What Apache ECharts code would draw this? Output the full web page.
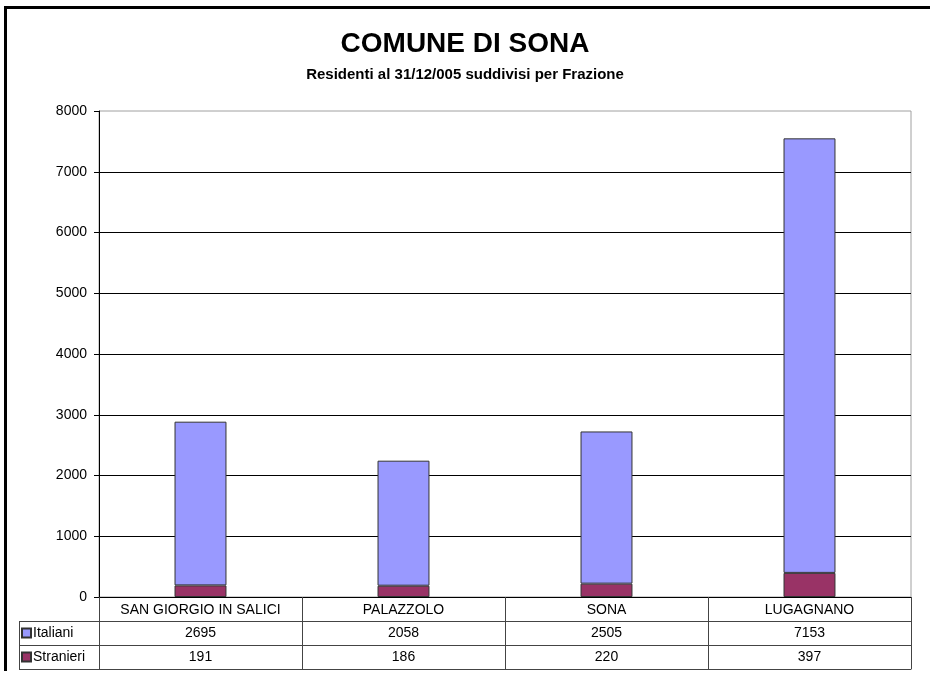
<!DOCTYPE html>
<html>
<head>
<meta charset="utf-8">
<script src="https://cdn.jsdelivr.net/npm/echarts@6/dist/echarts.min.js"></script>
<style>
html,body{margin:0;padding:0;background:#fff;}
#chart{width:930px;height:675px;}
</style>
</head>
<body>
<div id="chart"></div>
<script>
const categories = ['SAN GIORGIO IN SALICI', 'PALAZZOLO', 'SONA', 'LUGAGNANO'];
const italiani = [2695, 2058, 2505, 7153];
const stranieri = [191, 186, 220, 397];
const yMin = 0, yMax = 8000, yStep = 1000;
const titleText = 'COMUNE DI SONA';
const subtitleText = 'Residenti al 31/12/005 suddivisi per Frazione';

const FONT = 'Liberation Sans, Arial, sans-serif';
const G = {left: 99, right: 19, top: 111, bottom: 78};
const W = 930, H = 675;
const rowH = 24;
const plotBottom = H - G.bottom;        // 597
const legendLeft = 19;

const chart = echarts.init(document.getElementById('chart'), null, {renderer: 'canvas'});

function tableAxis(data, offset, showLabel) {
  return {
    type: 'category', data: data, position: 'bottom', offset: offset,
    axisLine: {show: true, lineStyle: {color: '#444', width: 1}},
    axisTick: {show: false},
    axisLabel: {show: showLabel, interval: 0, margin: 5, color: '#000', fontSize: 14, fontFamily: FONT},
    splitLine: {show: false}
  };
}

const option = {
  backgroundColor: '#fff',
  animation: false,
  title: {
    text: titleText, subtext: subtitleText, left: 'center', top: 30, padding: 0, itemGap: 9,
    textStyle: {fontFamily: FONT, fontSize: 28, fontWeight: 'bold', color: '#000'},
    subtextStyle: {fontFamily: FONT, fontSize: 15, fontWeight: 'bold', color: '#000'}
  },
  legend: {
    data: ['Italiani', 'Stranieri'], orient: 'vertical', left: 21, top: plotBottom + rowH + 5,
    padding: 0, itemGap: 10, itemWidth: 9, itemHeight: 9, icon: 'rect',
    textStyle: {fontFamily: FONT, fontSize: 14, color: '#000', lineHeight: 14, padding: [0, 0, 0, -3]},
    selectedMode: false
  },
  grid: {
    left: G.left, right: G.right, top: G.top, bottom: G.bottom,
    show: true, borderColor: '#a0a0a0', borderWidth: 1, backgroundColor: 'transparent'
  },
  xAxis: [
    {
      type: 'category', data: categories, position: 'bottom',
      axisLine: {show: true, lineStyle: {color: '#000', width: 1}},
      axisTick: {show: true, length: rowH * 3, lineStyle: {color: '#444'}},
      axisLabel: {interval: 0, margin: 6, color: '#000', fontSize: 14, fontFamily: FONT},
      splitLine: {show: false}
    },
    tableAxis(italiani.map(String), rowH, true),
    tableAxis(stranieri.map(String), rowH * 2, true),
    tableAxis(categories.map(() => ''), rowH * 3, false)
  ],
  yAxis: {
    type: 'value', min: yMin, max: yMax, interval: yStep,
    axisLine: {show: true, lineStyle: {color: '#000', width: 1}},
    axisTick: {show: true, length: 5, lineStyle: {color: '#000'}},
    axisLabel: {margin: 12, color: '#000', fontSize: 14, fontFamily: FONT, formatter: v => String(v)},
    splitLine: {show: true, showMaxLine: false, lineStyle: {color: '#000', width: 1}}
  },
  series: [
    {
      name: 'Stranieri', type: 'bar', stack: 'tot', xAxisIndex: 0, data: stranieri, barWidth: '25.6%',
      itemStyle: {color: '#993366', borderColor: '#333', borderWidth: 1}
    },
    {
      name: 'Italiani', type: 'bar', stack: 'tot', xAxisIndex: 0, data: italiani, barWidth: '25.6%',
      itemStyle: {color: '#9999FF', borderColor: '#333', borderWidth: 1}
    }
  ],
  graphic: [
    {type: 'line', shape: {x1: 4, y1: 7.5, x2: W, y2: 7.5}, style: {stroke: '#000', lineWidth: 3}},
    {type: 'line', shape: {x1: 5.5, y1: 6, x2: 5.5, y2: 671}, style: {stroke: '#000', lineWidth: 3}},
    {type: 'line', shape: {x1: legendLeft + 0.5, y1: plotBottom + rowH + 0.5, x2: legendLeft + 0.5, y2: plotBottom + rowH * 3 + 0.5}, style: {stroke: '#444', lineWidth: 1}},
    {type: 'line', shape: {x1: legendLeft, y1: plotBottom + rowH + 0.5, x2: G.left, y2: plotBottom + rowH + 0.5}, style: {stroke: '#444', lineWidth: 1}},
    {type: 'line', shape: {x1: legendLeft, y1: plotBottom + rowH * 2 + 0.5, x2: G.left, y2: plotBottom + rowH * 2 + 0.5}, style: {stroke: '#444', lineWidth: 1}},
    {type: 'line', shape: {x1: legendLeft, y1: plotBottom + rowH * 3 + 0.5, x2: G.left, y2: plotBottom + rowH * 3 + 0.5}, style: {stroke: '#444', lineWidth: 1}}
  ]
};
chart.setOption(option);
</script>
</body>
</html>
